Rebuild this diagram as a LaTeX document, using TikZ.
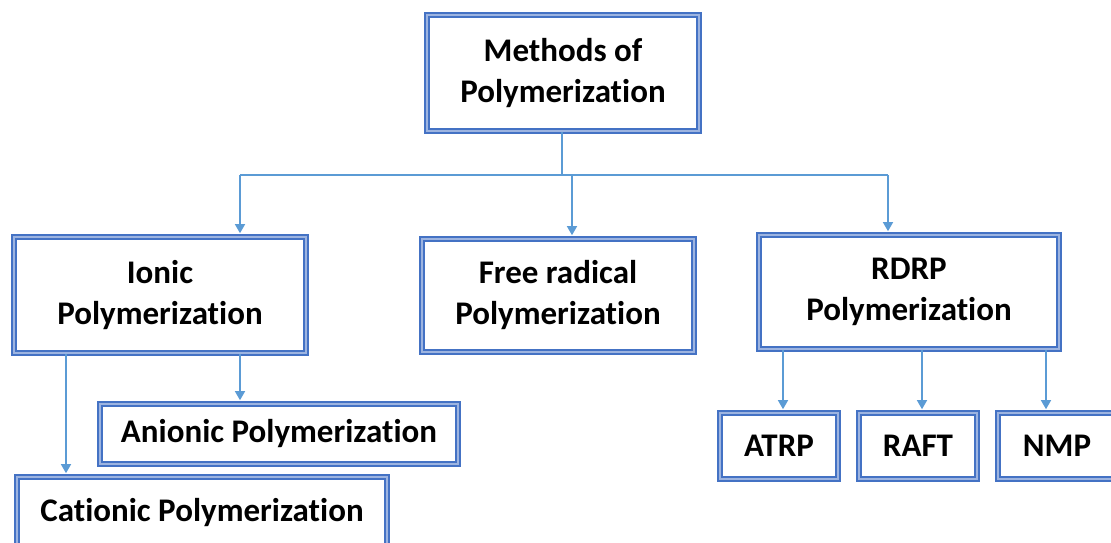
\documentclass[tikz,border=0pt]{standalone}
\usepackage{fontspec}
\setmainfont[Ligatures=NoCommon]{Carlito}
\usetikzlibrary{arrows.meta}
\definecolor{boxblue}{HTML}{4472C4}
\definecolor{boxlight}{HTML}{9DB4E0}
\definecolor{arrblue}{HTML}{5B9BD5}
\tikzset{
  box/.style={draw=boxblue, line width=1.6pt, double=boxlight, double distance=2.2pt,
    fill=white, rectangle, align=center, inner sep=0pt,
    font=\fontsize{33}{41}\selectfont\bfseries},
  arr/.style={draw=arrblue, line width=1.4pt, -{Triangle[width=10pt,length=9pt]}, shorten >=3pt},
  ln/.style={draw=arrblue, line width=1.4pt}
}
\begin{document}
\begin{tikzpicture}[x=1pt,y=-1pt]
\useasboundingbox (0,0) rectangle (1111,542);
\clip (0,0) rectangle (1111,542);
\node[box, minimum width=272pt, minimum height=116pt] (top) at (563,73) {Methods of\\Polymerization};
\node[box, minimum width=292pt, minimum height=116pt] (ionic) at (160,295) {Ionic\\Polymerization};
\node[box, minimum width=272pt, minimum height=113pt] (free) at (558,295.5) {Free radical\\Polymerization};
\node[box, minimum width=300pt, minimum height=114pt] (rdrp) at (909,292) {RDRP\\Polymerization};
\node[box, minimum width=358pt, minimum height=60pt] (anion) at (279,434) {Anionic Polymerization};
\node[box, minimum width=370pt, minimum height=72pt] (cation) at (202,513) {Cationic Polymerization};
\node[box, minimum width=118pt, minimum height=66pt] (atrp) at (779,446) {ATRP};
\node[box, minimum width=118pt, minimum height=66pt] (raft) at (918,446) {RAFT};
\node[box, minimum width=118pt, minimum height=66pt] (nmp) at (1057,446) {NMP};
\coordinate (hub) at (562,175);
\coordinate (hl) at (240,175);
\coordinate (hm) at (572,175);
\coordinate (hr) at (888,175);
\coordinate (xa) at (240,0);
\coordinate (xc) at (66,0);
\coordinate (x1) at (783,0);
\coordinate (x2) at (922,0);
\coordinate (x3) at (1046,0);
\draw[ln] (top.south -| hub) -- (hub);
\draw[ln] (hl) -- (hr);
\draw[arr] (hl) -- (ionic.north -| hl);
\draw[arr] (hm) -- (free.north -| hm);
\draw[arr] (hr) -- (rdrp.north -| hr);
\draw[arr] (ionic.south -| xa) -- (anion.north -| xa);
\draw[arr] (ionic.south -| xc) -- (cation.north -| xc);
\draw[arr] (rdrp.south -| x1) -- (atrp.north -| x1);
\draw[arr] (rdrp.south -| x2) -- (raft.north -| x2);
\draw[arr] (rdrp.south -| x3) -- (nmp.north -| x3);
\end{tikzpicture}
\end{document}
